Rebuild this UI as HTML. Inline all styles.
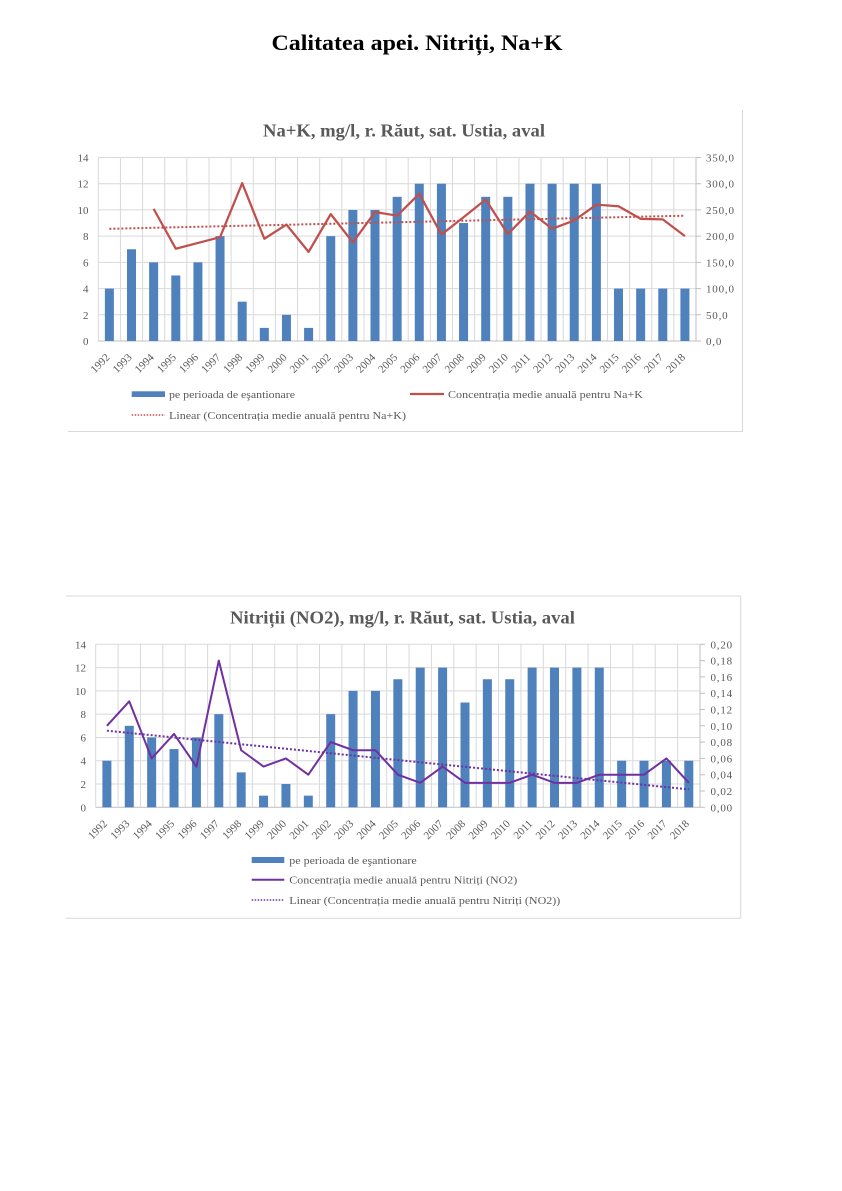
<!DOCTYPE html>
<html><head><meta charset="utf-8"><style>
html,body{margin:0;padding:0;background:#fff;}
svg{display:block;}
text{font-family:"Liberation Serif",serif;}
.t{fill:#595959;font-size:11px;}
.r{letter-spacing:0.8px;}
.g{stroke:#D9D9D9;stroke-width:1;fill:none;}
.b1{fill:#4F81BD;}
</style></head><body>
<svg width="842" height="1191" viewBox="0 0 842 1191" xmlns="http://www.w3.org/2000/svg">
<rect width="842" height="1191" fill="#fff"/>
<text x="417" y="50" text-anchor="middle" font-size="22" font-weight="bold" fill="#000" textLength="291" lengthAdjust="spacingAndGlyphs">Calitatea apei. Nitriți, Na+K</text>

<!-- ===== CHART 1 ===== -->
<path d="M742.5 110 V431.5 H68" stroke="#D9D9D9" fill="none"/>
<text x="404" y="136.5" text-anchor="middle" font-size="18" font-weight="bold" fill="#595959" textLength="282" lengthAdjust="spacingAndGlyphs">Na+K, mg/l, r. Răut, sat. Ustia, aval</text>
<g class="g">
<path d="M98.3 157.5H696M98.3 183.71H696M98.3 209.93H696M98.3 236.14H696M98.3 262.36H696M98.3 288.57H696M98.3 314.79H696"/>
<path d="M98.3 157.5V341M120.44 157.5V341M142.57 157.5V341M164.71 157.5V341M186.85 157.5V341M208.98 157.5V341M231.12 157.5V341M253.26 157.5V341M275.4 157.5V341M297.53 157.5V341M319.67 157.5V341M341.81 157.5V341M363.94 157.5V341M386.08 157.5V341M408.22 157.5V341M430.35 157.5V341M452.49 157.5V341M474.63 157.5V341M496.77 157.5V341M518.9 157.5V341M541.04 157.5V341M563.18 157.5V341M585.31 157.5V341M607.45 157.5V341M629.59 157.5V341M651.72 157.5V341M673.86 157.5V341M696 157.5V341"/>
</g>
<path d="M98.3 341H696M696 157.5V341M696 157.5h5M696 183.71h5M696 209.93h5M696 236.14h5M696 262.36h5M696 288.57h5M696 314.79h5M696 341h5" stroke="#BFBFBF" fill="none"/>
<g class="b1">
<rect x="104.87" y="288.57" width="9" height="52.43"/>
<rect x="127.01" y="249.25" width="9" height="91.75"/>
<rect x="149.14" y="262.36" width="9" height="78.64"/>
<rect x="171.28" y="275.46" width="9" height="65.54"/>
<rect x="193.42" y="262.36" width="9" height="78.64"/>
<rect x="215.55" y="236.14" width="9" height="104.86"/>
<rect x="237.69" y="301.68" width="9" height="39.32"/>
<rect x="259.83" y="327.89" width="9" height="13.11"/>
<rect x="281.96" y="314.79" width="9" height="26.21"/>
<rect x="304.1" y="327.89" width="9" height="13.11"/>
<rect x="326.24" y="236.14" width="9" height="104.86"/>
<rect x="348.37" y="209.93" width="9" height="131.07"/>
<rect x="370.51" y="209.93" width="9" height="131.07"/>
<rect x="392.65" y="196.82" width="9" height="144.18"/>
<rect x="414.78" y="183.71" width="9" height="157.29"/>
<rect x="436.92" y="183.71" width="9" height="157.29"/>
<rect x="459.06" y="223.04" width="9" height="117.96"/>
<rect x="481.19" y="196.82" width="9" height="144.18"/>
<rect x="503.33" y="196.82" width="9" height="144.18"/>
<rect x="525.47" y="183.71" width="9" height="157.29"/>
<rect x="547.6" y="183.71" width="9" height="157.29"/>
<rect x="569.74" y="183.71" width="9" height="157.29"/>
<rect x="591.88" y="183.71" width="9" height="157.29"/>
<rect x="614.01" y="288.57" width="9" height="52.43"/>
<rect x="636.15" y="288.57" width="9" height="52.43"/>
<rect x="658.29" y="288.57" width="9" height="52.43"/>
<rect x="680.42" y="288.57" width="9" height="52.43"/>
</g>
<polyline fill="none" stroke="#C0504D" stroke-width="2.25" stroke-linejoin="round" points="153.64,208.88 175.78,248.73 197.92,242.96 220.05,237.19 242.19,183.19 264.33,238.76 286.46,224.61 308.6,251.87 330.74,214.12 352.87,242.43 375.01,212.03 397.15,215.7 419.28,193.67 441.42,234.57 463.56,217.27 485.69,199.44 507.83,234.04 529.97,211.5 552.1,228.8 574.24,220.41 596.38,204.69 618.51,206.26 640.65,218.84 662.79,219.37 684.92,236.14"/>
<line x1="109.37" y1="228.8" x2="684.92" y2="215.7" stroke="#C0504D" stroke-width="2" stroke-dasharray="2,2"/>
<g class="t" text-anchor="end">
<text x="88.5" y="345">0</text><text x="88.5" y="318.8">2</text><text x="88.5" y="292.6">4</text><text x="88.5" y="266.4">6</text><text x="88.5" y="240.1">8</text><text x="88.5" y="213.9">10</text><text x="88.5" y="187.7">12</text><text x="88.5" y="161.5">14</text>
</g>
<g class="t r">
<text x="706" y="345">0,0</text><text x="706" y="318.8">50,0</text><text x="706" y="292.6">100,0</text><text x="706" y="266.4">150,0</text><text x="706" y="240.1">200,0</text><text x="706" y="213.9">250,0</text><text x="706" y="187.7">300,0</text><text x="706" y="161.5">350,0</text>
</g>
<g class="t" text-anchor="end">
<text transform="translate(110.4,358) rotate(-45)">1992</text>
<text transform="translate(132.5,358) rotate(-45)">1993</text>
<text transform="translate(154.6,358) rotate(-45)">1994</text>
<text transform="translate(176.8,358) rotate(-45)">1995</text>
<text transform="translate(198.9,358) rotate(-45)">1996</text>
<text transform="translate(221.1,358) rotate(-45)">1997</text>
<text transform="translate(243.2,358) rotate(-45)">1998</text>
<text transform="translate(265.3,358) rotate(-45)">1999</text>
<text transform="translate(287.5,358) rotate(-45)">2000</text>
<text transform="translate(309.6,358) rotate(-45)">2001</text>
<text transform="translate(331.7,358) rotate(-45)">2002</text>
<text transform="translate(353.9,358) rotate(-45)">2003</text>
<text transform="translate(376,358) rotate(-45)">2004</text>
<text transform="translate(398.1,358) rotate(-45)">2005</text>
<text transform="translate(420.3,358) rotate(-45)">2006</text>
<text transform="translate(442.4,358) rotate(-45)">2007</text>
<text transform="translate(464.6,358) rotate(-45)">2008</text>
<text transform="translate(486.7,358) rotate(-45)">2009</text>
<text transform="translate(508.8,358) rotate(-45)">2010</text>
<text transform="translate(531,358) rotate(-45)">2011</text>
<text transform="translate(553.1,358) rotate(-45)">2012</text>
<text transform="translate(575.2,358) rotate(-45)">2013</text>
<text transform="translate(597.4,358) rotate(-45)">2014</text>
<text transform="translate(619.5,358) rotate(-45)">2015</text>
<text transform="translate(641.7,358) rotate(-45)">2016</text>
<text transform="translate(663.8,358) rotate(-45)">2017</text>
<text transform="translate(685.9,358) rotate(-45)">2018</text>
</g>
<rect x="131.7" y="391.3" width="33.3" height="5.7" fill="#4F81BD"/>
<text class="t" x="169" y="398" textLength="126" lengthAdjust="spacingAndGlyphs">pe perioada de eşantionare</text>
<line x1="410" y1="394" x2="444" y2="394" stroke="#C0504D" stroke-width="2.25"/>
<text class="t" x="448" y="398" textLength="195" lengthAdjust="spacingAndGlyphs">Concentrația medie anuală pentru Na+K</text>
<line x1="131.7" y1="415" x2="165" y2="415" stroke="#C0504D" stroke-width="1.5" stroke-dasharray="1.5,1.5"/>
<text class="t" x="169" y="419" textLength="237" lengthAdjust="spacingAndGlyphs">Linear (Concentrația medie anuală pentru Na+K)</text>

<!-- ===== CHART 2 ===== -->
<path d="M66 596H740.7V918.3H66" stroke="#D9D9D9" fill="none"/>
<text x="402.5" y="623.3" text-anchor="middle" font-size="18" font-weight="bold" fill="#595959" textLength="345" lengthAdjust="spacingAndGlyphs">Nitriții (NO2), mg/l, r. Răut, sat. Ustia, aval</text>
<g class="g">
<path d="M95.7 644.3H700M95.7 667.59H700M95.7 690.87H700M95.7 714.16H700M95.7 737.44H700M95.7 760.73H700M95.7 784.01H700"/>
<path d="M95.7 644.3V807.3M118.08 644.3V807.3M140.46 644.3V807.3M162.84 644.3V807.3M185.22 644.3V807.3M207.61 644.3V807.3M229.99 644.3V807.3M252.37 644.3V807.3M274.75 644.3V807.3M297.13 644.3V807.3M319.51 644.3V807.3M341.89 644.3V807.3M364.27 644.3V807.3M386.65 644.3V807.3M409.03 644.3V807.3M431.42 644.3V807.3M453.8 644.3V807.3M476.18 644.3V807.3M498.56 644.3V807.3M520.94 644.3V807.3M543.32 644.3V807.3M565.7 644.3V807.3M588.08 644.3V807.3M610.46 644.3V807.3M632.84 644.3V807.3M655.23 644.3V807.3M677.61 644.3V807.3M700 644.3V807.3"/>
</g>
<path d="M95.7 807.3H700M700 644.3V807.3M700 644.3h5M700 660.6h5M700 676.9h5M700 693.2h5M700 709.5h5M700 725.8h5M700 742.1h5M700 758.4h5M700 774.7h5M700 791h5M700 807.3h5" stroke="#BFBFBF" fill="none"/>
<g class="b1">
<rect x="102.39" y="760.73" width="9" height="46.57"/>
<rect x="124.77" y="725.8" width="9" height="81.5"/>
<rect x="147.15" y="737.44" width="9" height="69.86"/>
<rect x="169.53" y="749.09" width="9" height="58.21"/>
<rect x="191.91" y="737.44" width="9" height="69.86"/>
<rect x="214.3" y="714.16" width="9" height="93.14"/>
<rect x="236.68" y="772.37" width="9" height="34.93"/>
<rect x="259.06" y="795.66" width="9" height="11.64"/>
<rect x="281.44" y="784.01" width="9" height="23.29"/>
<rect x="303.82" y="795.66" width="9" height="11.64"/>
<rect x="326.2" y="714.16" width="9" height="93.14"/>
<rect x="348.58" y="690.87" width="9" height="116.43"/>
<rect x="370.96" y="690.87" width="9" height="116.43"/>
<rect x="393.34" y="679.23" width="9" height="128.07"/>
<rect x="415.72" y="667.59" width="9" height="139.71"/>
<rect x="438.11" y="667.59" width="9" height="139.71"/>
<rect x="460.49" y="702.51" width="9" height="104.79"/>
<rect x="482.87" y="679.23" width="9" height="128.07"/>
<rect x="505.25" y="679.23" width="9" height="128.07"/>
<rect x="527.63" y="667.59" width="9" height="139.71"/>
<rect x="550.01" y="667.59" width="9" height="139.71"/>
<rect x="572.39" y="667.59" width="9" height="139.71"/>
<rect x="594.77" y="667.59" width="9" height="139.71"/>
<rect x="617.15" y="760.73" width="9" height="46.57"/>
<rect x="639.53" y="760.73" width="9" height="46.57"/>
<rect x="661.92" y="760.73" width="9" height="46.57"/>
<rect x="684.3" y="760.73" width="9" height="46.57"/>
</g>
<polyline fill="none" stroke="#7030A0" stroke-width="2" stroke-linejoin="round" points="106.89,725.8 129.27,701.35 151.65,758.4 174.03,733.95 196.41,766.55 218.8,660.6 241.18,750.25 263.56,766.55 285.94,758.4 308.32,774.7 330.7,742.1 353.08,750.25 375.46,750.25 397.84,774.7 420.22,782.85 442.61,766.55 464.99,782.85 487.37,782.85 509.75,782.85 532.13,774.7 554.51,782.85 576.89,782.85 599.27,774.7 621.65,774.7 644.03,774.7 666.42,758.4 688.8,782.85"/>
<line x1="106.89" y1="730.69" x2="688.8" y2="789.37" stroke="#7030A0" stroke-width="2" stroke-dasharray="2,2"/>
<g class="t" text-anchor="end">
<text x="86" y="811.3">0</text><text x="86" y="788">2</text><text x="86" y="764.7">4</text><text x="86" y="741.4">6</text><text x="86" y="718.2">8</text><text x="86" y="694.9">10</text><text x="86" y="671.6">12</text><text x="86" y="648.3">14</text>
</g>
<g class="t r">
<text x="710.5" y="811.3">0,00</text><text x="710.5" y="795">0,02</text><text x="710.5" y="778.7">0,04</text><text x="710.5" y="762.4">0,06</text><text x="710.5" y="746.1">0,08</text><text x="710.5" y="729.8">0,10</text><text x="710.5" y="713.5">0,12</text><text x="710.5" y="697.2">0,14</text><text x="710.5" y="680.9">0,16</text><text x="710.5" y="664.6">0,18</text><text x="710.5" y="648.3">0,20</text>
</g>
<g class="t" text-anchor="end">
<text transform="translate(107.9,824.3) rotate(-45)">1992</text>
<text transform="translate(130.3,824.3) rotate(-45)">1993</text>
<text transform="translate(152.7,824.3) rotate(-45)">1994</text>
<text transform="translate(175,824.3) rotate(-45)">1995</text>
<text transform="translate(197.4,824.3) rotate(-45)">1996</text>
<text transform="translate(219.8,824.3) rotate(-45)">1997</text>
<text transform="translate(242.2,824.3) rotate(-45)">1998</text>
<text transform="translate(264.6,824.3) rotate(-45)">1999</text>
<text transform="translate(286.9,824.3) rotate(-45)">2000</text>
<text transform="translate(309.3,824.3) rotate(-45)">2001</text>
<text transform="translate(331.7,824.3) rotate(-45)">2002</text>
<text transform="translate(354.1,824.3) rotate(-45)">2003</text>
<text transform="translate(376.5,824.3) rotate(-45)">2004</text>
<text transform="translate(398.8,824.3) rotate(-45)">2005</text>
<text transform="translate(421.2,824.3) rotate(-45)">2006</text>
<text transform="translate(443.6,824.3) rotate(-45)">2007</text>
<text transform="translate(466,824.3) rotate(-45)">2008</text>
<text transform="translate(488.4,824.3) rotate(-45)">2009</text>
<text transform="translate(510.8,824.3) rotate(-45)">2010</text>
<text transform="translate(533.1,824.3) rotate(-45)">2011</text>
<text transform="translate(555.5,824.3) rotate(-45)">2012</text>
<text transform="translate(577.9,824.3) rotate(-45)">2013</text>
<text transform="translate(600.3,824.3) rotate(-45)">2014</text>
<text transform="translate(622.7,824.3) rotate(-45)">2015</text>
<text transform="translate(645,824.3) rotate(-45)">2016</text>
<text transform="translate(667.4,824.3) rotate(-45)">2017</text>
<text transform="translate(689.8,824.3) rotate(-45)">2018</text>
</g>
<rect x="251.7" y="857" width="32.6" height="6" fill="#4F81BD"/>
<text class="t" x="289.3" y="864" textLength="127.4" lengthAdjust="spacingAndGlyphs">pe perioada de eşantionare</text>
<line x1="251.7" y1="879.7" x2="284.3" y2="879.7" stroke="#7030A0" stroke-width="2"/>
<text class="t" x="289.3" y="883.7" textLength="228" lengthAdjust="spacingAndGlyphs">Concentrația medie anuală pentru Nitriți (NO2)</text>
<line x1="251.7" y1="900" x2="284.3" y2="900" stroke="#7030A0" stroke-width="1.5" stroke-dasharray="1.5,1.5"/>
<text class="t" x="289.3" y="904" textLength="271" lengthAdjust="spacingAndGlyphs">Linear (Concentrația medie anuală pentru Nitriți (NO2))</text>
</svg>
</body></html>
